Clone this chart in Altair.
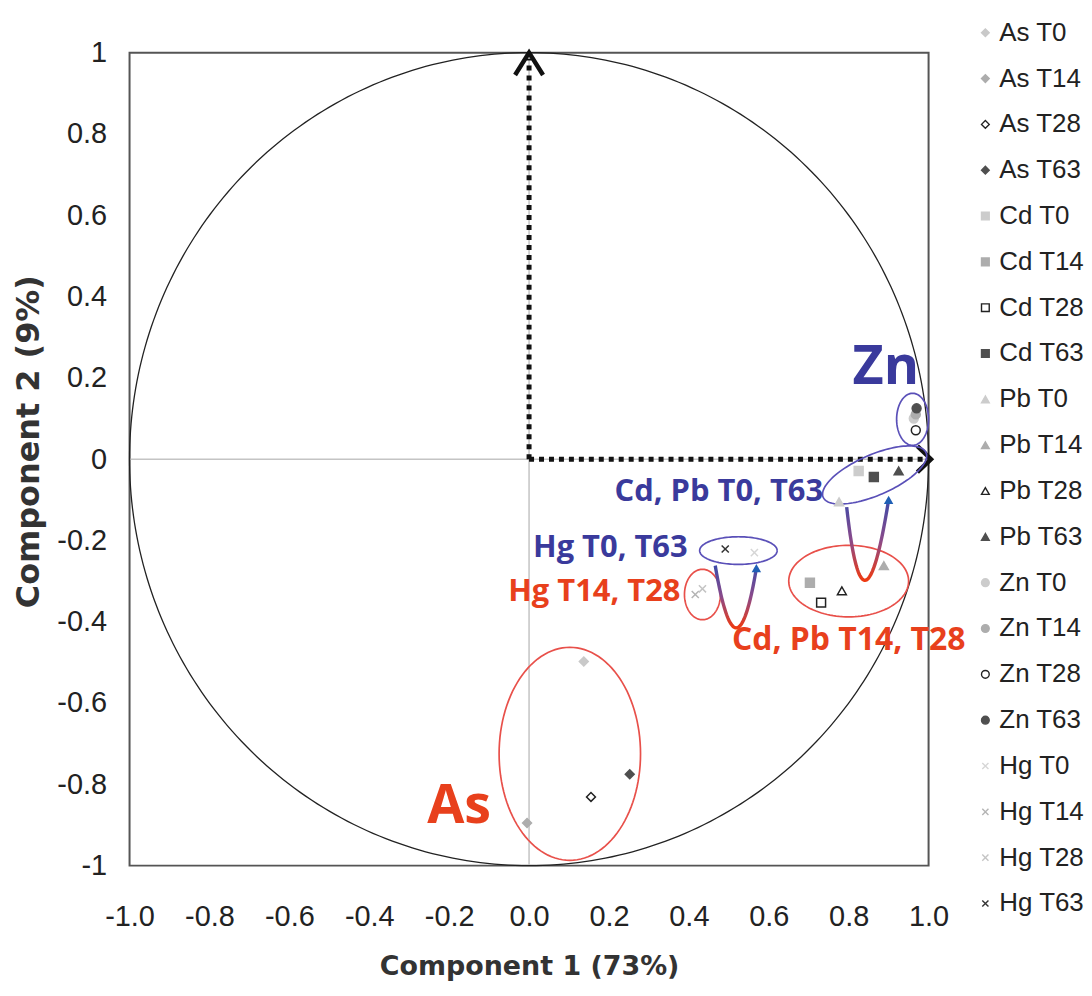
import altair as alt
import numpy as np
import pandas as pd

# ---------------- data ----------------
series = ["As T0", "As T14", "As T28", "As T63",
          "Cd T0", "Cd T14", "Cd T28", "Cd T63",
          "Pb T0", "Pb T14", "Pb T28", "Pb T63",
          "Zn T0", "Zn T14", "Zn T28", "Zn T63",
          "Hg T0", "Hg T14", "Hg T28", "Hg T63"]
comp1 = [0.137, -0.005, 0.155, 0.252,
         0.825, 0.703, 0.731, 0.863,
         0.776, 0.888, 0.783, 0.925,
         0.963, 0.968, 0.968, 0.970,
         0.564, 0.416, 0.434, 0.491]
comp2 = [-0.498, -0.895, -0.831, -0.775,
         -0.029, -0.304, -0.353, -0.044,
         -0.105, -0.262, -0.324, -0.029,
         0.100, 0.110, 0.071, 0.125,
         -0.230, -0.333, -0.319, -0.221]

X_PATH = "M-0.8,-0.8L0.8,0.8M-0.8,0.8L0.8,-0.8"
metal_shapes = {"As": "diamond", "Cd": "square", "Pb": "triangle-up",
                "Zn": "circle", "Hg": X_PATH}
fills = ["#c9c9c9", "#adadad", "#ffffff", "#4f4f4f",
         "#cccccc", "#adadad", "#ffffff", "#4f4f4f",
         "#cccccc", "#adadad", "#ffffff", "#4f4f4f",
         "#cccccc", "#adadad", "#ffffff", "#4f4f4f",
         "#d6d6d6", "#b4b4b4", "#c4c4c4", "#333333"]
strokes = ["#c9c9c9", "#adadad", "#222222", "#4f4f4f",
           "#cccccc", "#adadad", "#222222", "#4f4f4f",
           "#cccccc", "#adadad", "#222222", "#4f4f4f",
           "#cccccc", "#adadad", "#222222", "#4f4f4f",
           "#d6d6d6", "#b4b4b4", "#c4c4c4", "#333333"]
shapes = [metal_shapes[s.split()[0]] for s in series]

# annotation texts
lab_text = ["Cd, Pb T0, T63", "Hg T0, T63", "Hg T14, T28"]
lab_x = [0.736, 0.397, 0.379]
lab_y = [-0.081, -0.218, -0.328]
lab_col = ["#3a3a9c", "#3a3a9c", "#e8401c"]

big_text = ["Zn", "As", "Cd, Pb T14, T28"]
big_x = [0.893, -0.175, 0.80]
big_y = [0.223, -0.855, -0.446]
big_col = ["#3a3a9c", "#e8401c", "#e8401c"]
big_size = [54, 54, 32]

# ellipses (center, radii, angle in degrees, colour)
ell_name = ["zn", "cdpb0", "cdpb14", "hg0", "hg14", "as"]
ell_cx = [0.960, 0.865, 0.800, 0.524, 0.434, 0.102]
ell_cy = [0.098, -0.039, -0.300, -0.225, -0.333, -0.725]
ell_rx = [0.040, 0.140, 0.150, 0.097, 0.045, 0.177]
ell_ry = [0.064, 0.050, 0.088, 0.034, 0.062, 0.262]
ell_ang = [0, 23, 0, 0, 0, 0]
ell_col = ["#5a50b8", "#5a50b8", "#e8504a", "#5a50b8", "#e8504a", "#e8504a"]

# U-shaped transition arrows (left top, bottom, right top)
u_name = ["hg", "cdpb"]
u_xl = [0.466, 0.795]
u_yl = [-0.262, -0.118]
u_xb = [0.518, 0.842]
u_yb = [-0.415, -0.298]
u_xr = [0.569, 0.900]
u_yr = [-0.268, -0.100]

# loading axes arrows
arr_x0 = [0.0, 0.0]
arr_y0 = [0.0, 0.0]
arr_x1 = [0.0, 1.0]
arr_y1 = [0.985, 0.0]
chev_name = ["v", "v", "v", "h", "h", "h"]
chev_x = [-0.035, 0.0, 0.035, 0.972, 1.006, 0.972]
chev_y = [0.945, 1.0, 0.945, 0.032, 0.0, -0.032]
chev_ord = [0, 1, 2, 0, 1, 2]

zero_x0 = [0.0, -1.0]
zero_y0 = [-1.0, 0.0]
zero_x1 = [0.0, 1.0]
zero_y1 = [1.0, 0.0]

x_ticks = [-1.0, -0.8, -0.6, -0.4, -0.2, 0.0, 0.2, 0.4, 0.6, 0.8, 1.0]
y_ticks = [-1.0, -0.8, -0.6, -0.4, -0.2, 0.0, 0.2, 0.4, 0.6, 0.8, 1.0]

# ---------------- tables ----------------
pts = pd.DataFrame({"series": series, "x": comp1, "y": comp2})

th = np.linspace(0, 2 * np.pi, 361)
circle = pd.DataFrame({"x": np.cos(th), "y": np.sin(th), "o": np.arange(361)})

rows = []
for n, cx, cy, rx, ry, a, c in zip(ell_name, ell_cx, ell_cy, ell_rx, ell_ry, ell_ang, ell_col):
    t = np.linspace(0, 2 * np.pi, 121)
    ar = np.deg2rad(a)
    ex = rx * np.cos(t)
    ey = ry * np.sin(t)
    for i in range(len(t)):
        rows.append({"name": n, "col": c, "o": i,
                     "x": cx + ex[i] * np.cos(ar) - ey[i] * np.sin(ar),
                     "y": cy + ex[i] * np.sin(ar) + ey[i] * np.cos(ar)})
ell = pd.DataFrame(rows)

urows = []
for n, xl, yl, xb, yb, xr, yr in zip(u_name, u_xl, u_yl, u_xb, u_yb, u_xr, u_yr):
    t = np.linspace(0, 1, 60)
    ytop = (yl + yr) / 2
    cxp = 2 * xb - (xl + xr) / 2
    cyp = 2 * yb - ytop
    bx = (1 - t) ** 2 * xl + 2 * (1 - t) * t * cxp + t ** 2 * xr
    by = (1 - t) ** 2 * yl + 2 * (1 - t) * t * cyp + t ** 2 * yr
    for i in range(len(t)):
        urows.append({"name": n, "o": i, "x": bx[i], "y": by[i]})
ucurve = pd.DataFrame(urows)
uheads = pd.DataFrame({"x": u_xr, "y": u_yr})

arrows = pd.DataFrame({"x": arr_x0, "y": arr_y0, "x2": arr_x1, "y2": arr_y1})
chev = pd.DataFrame({"name": chev_name, "x": chev_x, "y": chev_y, "o": chev_ord})
zeros = pd.DataFrame({"x": zero_x0, "y": zero_y0, "x2": zero_x1, "y2": zero_y1})
labs = pd.DataFrame({"t": lab_text, "x": lab_x, "y": lab_y, "col": lab_col})
bigs = pd.DataFrame({"t": big_text, "x": big_x, "y": big_y, "col": big_col, "fs": big_size})

# ---------------- encodings ----------------
XS = alt.Scale(domain=[-1, 1], nice=False, zero=False)
YS = alt.Scale(domain=[-1, 1], nice=False, zero=False)

x_axis = alt.Axis(values=x_ticks, grid=False, domain=False, ticks=False,
                  labelExpr="datum.value < 0 ? '-' + format(-datum.value, '.1f') : format(datum.value, '.1f')",
                  labelFont="Liberation Sans", labelFontSize=29, labelColor="#222222",
                  labelPadding=37, labelFlush=False,
                  title="Component 1 (73%)", titleFont="DejaVu Sans", titleFontSize=27,
                  titleFontWeight="bold", titleColor="#333333",
                  titleBaseline="bottom", titleY=115, titleX=401)
y_axis = alt.Axis(values=y_ticks, grid=False, domain=False, ticks=False,
                  labelExpr="datum.value < 0 ? '-' + format(-datum.value, '~g') : format(datum.value, '~g')",
                  labelFont="Liberation Sans", labelFontSize=29, labelColor="#222222",
                  labelPadding=23, labelFlush=False,
                  title="Component 2 (9%)", titleFont="DejaVu Sans", titleFontSize=32,
                  titleFontWeight="bold", titleColor="#333333",
                  titleAngle=270, titleAlign="center", titleBaseline="middle",
                  titleX=-101, titleY=390)


def X(field="x"):
    return alt.X(f"{field}:Q", scale=XS, axis=x_axis)


def Y(field="y"):
    return alt.Y(f"{field}:Q", scale=YS, axis=y_axis)


leg = alt.Legend(title=None, orient="none", legendX=846, legendY=-33,
                 labelFont="Liberation Sans", labelFontSize=26, labelColor="#222222",
                 rowPadding=20, symbolSize=60, symbolStrokeWidth=1.4,
                 labelOffset=1, padding=0)

zero_layer = alt.Chart(zeros).mark_rule(color="#c4c4c4", strokeWidth=1.5).encode(
    x=X(), y=Y(), x2="x2:Q", y2="y2:Q")

circle_layer = alt.Chart(circle).mark_line(color="#222222", strokeWidth=1.3).encode(
    x=X(), y=Y(), order="o:Q")

arrow_layer = alt.Chart(arrows).mark_rule(color="#111111", strokeWidth=5,
                                          strokeDash=[5, 5]).encode(
    x=X(), y=Y(), x2="x2:Q", y2="y2:Q")

chev_layer = alt.Chart(chev).mark_line(color="#111111", strokeWidth=4.5,
                                       strokeJoin="miter").encode(
    x=X(), y=Y(), detail="name:N", order="o:Q")

ell_layer = alt.Chart(ell).mark_line(strokeWidth=1.7).encode(
    x=X(), y=Y(), detail="name:N", order="o:Q",
    color=alt.Color("col:N", scale=None))

grad = alt.LinearGradient(gradient="linear",
                          stops=[alt.GradientStop(color="#3d4aa8", offset=0),
                                 alt.GradientStop(color="#8a4a8a", offset=0.5),
                                 alt.GradientStop(color="#ee3a12", offset=1)],
                          x1=0, x2=0, y1=0, y2=1)
u_layer = alt.Chart(ucurve).mark_line(stroke=grad, strokeWidth=3.4).encode(
    x=X(), y=Y(), detail="name:N", order="o:Q")

head_layer = alt.Chart(uheads).mark_point(shape="triangle-up", filled=True,
                                          color="#1f5fb5", size=90, opacity=1).encode(
    x=X(), y=Y())

pts_layer = alt.Chart(pts).mark_point(size=80, opacity=1, strokeWidth=1.5).encode(
    x=X(), y=Y(),
    shape=alt.Shape("series:N", scale=alt.Scale(domain=series, range=shapes), legend=leg),
    fill=alt.Fill("series:N", scale=alt.Scale(domain=series, range=fills), legend=leg),
    stroke=alt.Stroke("series:N", scale=alt.Scale(domain=series, range=strokes), legend=leg))

lab_layer = alt.Chart(labs).mark_text(align="right", baseline="middle",
                                      font="Open Sans", fontWeight="bold",
                                      fontSize=31).encode(
    x=X(), y=Y(), text="t:N", color=alt.Color("col:N", scale=None))

big_layer = alt.Chart(bigs).mark_text(align="center", baseline="middle",
                                      font="Open Sans", fontWeight="bold").encode(
    x=X(), y=Y(), text="t:N", color=alt.Color("col:N", scale=None),
    size=alt.Size("fs:Q", scale=None))

chart = alt.layer(zero_layer, circle_layer, arrow_layer, chev_layer, ell_layer,
                  u_layer, head_layer, pts_layer, lab_layer, big_layer).properties(
    width=802, height=816,
    autosize=alt.AutoSizeParams(type="none"),
    padding={"left": 122, "top": 43, "right": 156, "bottom": 116},
    background="white",
).configure_view(stroke="#555555", strokeWidth=2)

chart.save("out.html", embed_options={"renderer": "svg", "actions": False})
